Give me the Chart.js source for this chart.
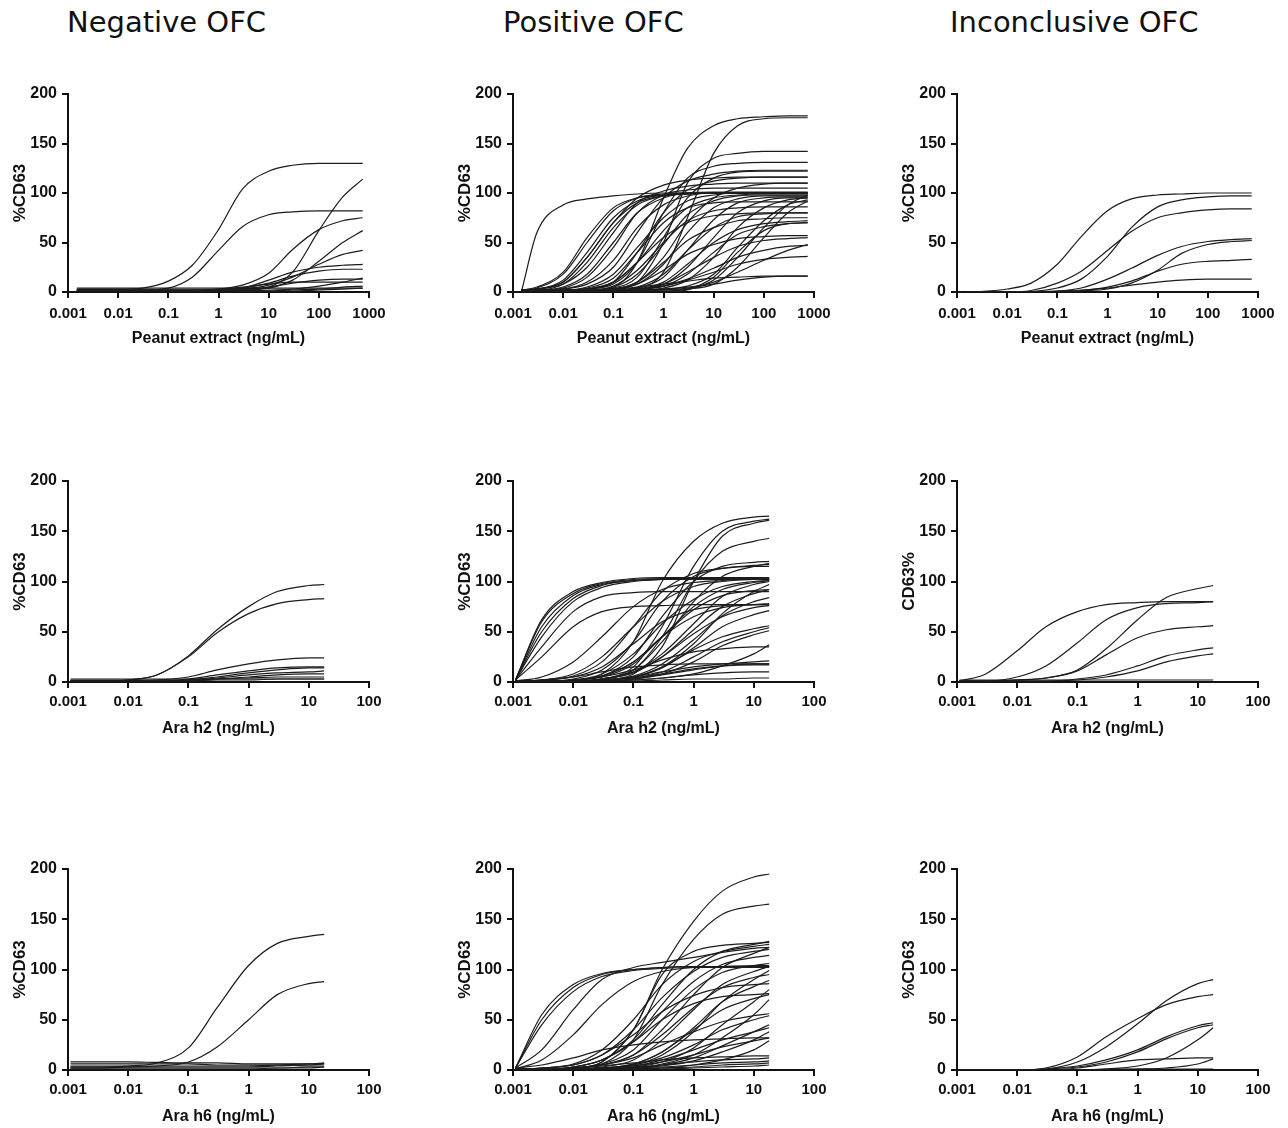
<!DOCTYPE html>
<html>
<head>
<meta charset="utf-8">
<title>%CD63 dose-response curves by OFC outcome</title>
<script src="https://cdn.jsdelivr.net/npm/chart.js@4.4.1/dist/chart.umd.min.js"></script>
<style>
  body { margin: 0; background: #fff; width: 1288px; height: 1128px; position: relative; overflow: hidden; }
  .col-title { position: absolute; top: 5px; font-family: "DejaVu Sans", Verdana, sans-serif; font-size: 29px; color: #111; white-space: nowrap; }
  canvas { position: absolute; }
</style>
</head>
<body>
<div class="col-title" style="left:67px">Negative OFC</div>
<div class="col-title" style="left:503px">Positive OFC</div>
<div class="col-title" style="left:950px">Inconclusive OFC</div>

<script>
var xPeanut = [0.0015, 0.003, 0.01, 0.03, 0.1, 0.3, 1, 3, 10, 30, 100, 300, 750];
var xAra = [0.0011, 0.003, 0.01, 0.03, 0.1, 0.3, 1, 3, 10, 18];

// Axis ticks
var peanutTicks = [0.001, 0.01, 0.1, 1, 10, 100, 1000];
var peanutTickLabels = ['0.001', '0.01', '0.1', '1', '10', '100', '1000'];
var araTicks = [0.001, 0.01, 0.1, 1, 10, 100];
var araTickLabels = ['0.001', '0.01', '0.1', '1', '10', '100'];
var yTicks = [0, 50, 100, 150, 200];

// %CD63 per patient, Peanut extract
var negPeanut = [
    [3, 3, 3, 4, 11, 27, 63, 104, 122, 128, 130, 130, 130],
    [2, 2, 2, 2, 4, 15, 42, 66, 78, 81, 82, 82, 82],
    [1, 1, 1, 1, 1, 1, 1, 2, 5, 20, 62, 96, 114],
    [2, 2, 2, 2, 2, 2, 3, 7, 19, 43, 63, 72, 75],
    [1, 1, 1, 1, 1, 1, 1, 2, 4, 12, 31, 50, 62],
    [1, 1, 1, 1, 1, 1, 2, 3, 7, 15, 28, 38, 42],
    [2, 2, 2, 2, 2, 2, 2, 4, 12, 20, 25, 27, 28],
    [1, 1, 1, 1, 1, 1, 2, 4, 9, 16, 21, 23, 23],
    [2, 2, 2, 2, 2, 2, 2, 3, 5, 9, 12, 13, 13],
    [1, 1, 1, 1, 1, 1, 1, 1, 2, 3, 6, 10, 14],
    [2, 2, 2, 2, 2, 2, 3, 5, 8, 10, 10, 10, 10],
    [1, 1, 1, 1, 1, 1, 1, 1, 1, 2, 3, 5, 6],
    [4, 4, 4, 4, 4, 4, 4, 4, 4, 4, 4, 4, 4],
    [1, 1, 1, 1, 1, 1, 1, 1, 1, 1, 2, 3, 4]
];

var posPeanut = [
    [2, 60, 88, 94, 97, 99, 100, 100, 100, 100, 100, 100, 100],
    [2, 2, 2, 2, 5, 30, 95, 145, 168, 175, 177, 178, 178],
    [2, 2, 2, 2, 2, 4, 20, 75, 140, 168, 175, 176, 176],
    [2, 2, 2, 2, 3, 10, 50, 110, 135, 140, 142, 142, 142],
    [2, 2, 2, 3, 8, 30, 80, 115, 127, 130, 131, 131, 131],
    [2, 2, 3, 8, 25, 60, 95, 112, 119, 122, 123, 123, 123],
    [2, 2, 2, 2, 4, 15, 55, 95, 115, 121, 122, 122, 122],
    [2, 3, 10, 35, 70, 95, 108, 113, 115, 116, 116, 116, 116],
    [2, 2, 2, 3, 10, 40, 80, 103, 112, 115, 116, 116, 116],
    [2, 3, 8, 25, 60, 90, 102, 107, 109, 110, 110, 110, 110],
    [2, 2, 2, 2, 3, 10, 35, 70, 95, 105, 109, 110, 110],
    [2, 4, 18, 50, 82, 95, 99, 100, 100, 100, 100, 100, 100],
    [2, 3, 12, 40, 75, 92, 98, 100, 100, 100, 100, 100, 100],
    [2, 2, 8, 30, 65, 88, 97, 99, 100, 100, 100, 100, 100],
    [2, 5, 20, 55, 85, 95, 98, 99, 100, 100, 100, 100, 100],
    [2, 3, 10, 35, 70, 90, 97, 99, 100, 100, 100, 100, 100],
    [2, 2, 5, 18, 50, 80, 95, 100, 101, 101, 101, 101, 101],
    [2, 2, 3, 10, 32, 65, 88, 97, 100, 100, 100, 100, 100],
    [2, 2, 2, 5, 18, 45, 75, 92, 98, 100, 100, 100, 100],
    [2, 2, 2, 3, 10, 30, 62, 85, 95, 98, 99, 99, 99],
    [2, 2, 2, 2, 5, 18, 48, 78, 92, 97, 98, 98, 98],
    [2, 2, 2, 2, 3, 8, 28, 60, 85, 94, 97, 97, 97],
    [2, 2, 2, 2, 2, 4, 15, 42, 73, 90, 95, 96, 96],
    [2, 2, 2, 2, 2, 3, 8, 25, 55, 80, 92, 95, 95],
    [2, 2, 2, 2, 2, 2, 4, 12, 35, 65, 85, 93, 95],
    [2, 2, 2, 2, 2, 2, 3, 6, 18, 45, 72, 88, 93],
    [2, 2, 2, 2, 2, 2, 2, 3, 8, 25, 55, 80, 92],
    [2, 2, 4, 15, 45, 80, 98, 103, 105, 105, 105, 105, 105],
    [2, 2, 2, 4, 14, 40, 70, 85, 90, 91, 91, 91, 91],
    [2, 2, 2, 2, 6, 22, 50, 72, 82, 85, 86, 86, 86],
    [2, 2, 2, 3, 10, 30, 55, 70, 77, 79, 80, 80, 80],
    [2, 2, 2, 2, 2, 5, 18, 42, 65, 76, 79, 80, 80],
    [2, 2, 2, 2, 3, 10, 30, 52, 65, 72, 74, 75, 75],
    [2, 2, 2, 2, 2, 3, 10, 28, 50, 63, 69, 71, 72],
    [2, 2, 2, 2, 2, 3, 6, 18, 40, 58, 66, 69, 70],
    [2, 2, 2, 2, 3, 8, 22, 38, 48, 54, 56, 57, 57],
    [2, 2, 2, 2, 2, 3, 8, 20, 35, 46, 52, 54, 55],
    [1, 1, 1, 1, 1, 1, 2, 4, 10, 20, 32, 42, 48],
    [2, 2, 2, 2, 2, 3, 6, 13, 24, 35, 42, 46, 47],
    [2, 2, 2, 2, 2, 3, 6, 12, 20, 28, 33, 35, 36],
    [2, 2, 2, 2, 3, 5, 8, 11, 14, 15, 16, 16, 16],
    [0, 0, 0, 0, 0, 0, 0, 2, 12, 35, 65, 88, 98],
    [1, 1, 1, 1, 1, 1, 1, 3, 15, 40, 62, 69, 70],
    [2, 2, 2, 2, 2, 2, 3, 5, 8, 12, 15, 16, 16]
];

var incPeanut = [
    [0, 0.5, 3, 9, 28, 56, 82, 94, 98, 99, 100, 100, 100],
    [0, 0, 0, 1.5, 9, 21, 42, 61, 75, 80, 83, 84, 84],
    [0, 0, 0, 0.5, 4, 13, 36, 65, 86, 93, 96, 97, 97],
    [0, 0, 0, 0, 1, 4, 13, 24, 37, 46, 51, 53, 54],
    [0, 0, 0, 0, 0, 1, 3, 9, 22, 39, 48, 51, 52],
    [0, 0, 0, 0, 0, 1.5, 5, 11, 21, 28, 31, 32, 33],
    [0, 0, 0, 0, 1, 2, 4, 7, 10, 12, 13, 13, 13]
];

// %CD63 per patient, Ara h2
var negAraH2 = [
    [1, 1, 2, 7, 26, 52, 75, 90, 96, 97],
    [1, 1, 2, 7, 25, 49, 68, 78, 82, 83],
    [1, 1, 1, 2, 5, 12, 18, 22, 24, 24],
    [1, 1, 1, 1, 3, 7, 11, 14, 15, 15],
    [1, 1, 1, 1, 2, 5, 9, 12, 14, 14],
    [1, 1, 1, 1, 2, 4, 7, 9, 10, 11],
    [1, 1, 1, 1, 1, 3, 5, 7, 8, 8],
    [2, 2, 2, 2, 2, 3, 4, 5, 5, 5],
    [1, 1, 1, 1, 1, 2, 2, 3, 3, 3],
    [3, 3, 3, 3, 3, 3, 3, 3, 3, 3]
];

var posAraH2 = [
    [2, 60, 88, 98, 102, 103, 103, 103, 103, 103],
    [2, 55, 86, 97, 101, 102, 103, 103, 103, 103],
    [2, 50, 83, 96, 101, 102, 102, 102, 102, 102],
    [2, 62, 90, 99, 103, 104, 104, 104, 104, 104],
    [2, 45, 80, 94, 100, 102, 103, 103, 103, 103],
    [2, 35, 70, 85, 89, 90, 90, 90, 90, 90],
    [2, 25, 55, 70, 75, 76, 77, 77, 77, 77],
    [1, 5, 20, 45, 75, 92, 99, 101, 102, 102],
    [1, 2, 8, 25, 55, 80, 95, 100, 102, 102],
    [1, 1, 2, 8, 40, 100, 140, 158, 164, 165],
    [1, 1, 1, 3, 15, 55, 115, 150, 160, 162],
    [1, 1, 1, 2, 8, 35, 100, 145, 158, 161],
    [1, 1, 1, 3, 12, 45, 100, 130, 140, 143],
    [1, 1, 2, 6, 25, 65, 100, 115, 119, 120],
    [1, 1, 1, 3, 12, 40, 80, 105, 115, 118],
    [1, 1, 3, 12, 40, 80, 105, 113, 116, 117],
    [1, 2, 6, 20, 55, 90, 108, 113, 115, 115],
    [1, 1, 2, 6, 20, 45, 75, 92, 99, 101],
    [1, 1, 1, 3, 10, 28, 58, 85, 97, 100],
    [1, 1, 1, 2, 5, 15, 38, 68, 90, 97],
    [1, 1, 2, 8, 28, 58, 82, 95, 100, 101],
    [1, 1, 2, 5, 18, 45, 72, 86, 91, 92],
    [1, 1, 1, 3, 9, 25, 52, 75, 88, 92],
    [1, 1, 1, 2, 6, 18, 42, 66, 80, 84],
    [1, 2, 5, 15, 38, 60, 72, 76, 77, 77],
    [1, 1, 2, 6, 20, 45, 65, 74, 77, 78],
    [1, 1, 1, 3, 10, 25, 48, 65, 74, 76],
    [1, 1, 1, 2, 5, 14, 34, 55, 67, 71],
    [1, 1, 1, 2, 5, 15, 32, 45, 53, 56],
    [1, 1, 1, 2, 4, 10, 25, 40, 50, 54],
    [1, 1, 1, 1, 3, 8, 20, 36, 47, 51],
    [1, 1, 1, 1, 2, 4, 8, 16, 28, 37],
    [1, 1, 2, 5, 12, 22, 30, 33, 35, 35],
    [1, 1, 1, 2, 5, 10, 15, 18, 20, 21],
    [1, 1, 1, 1, 3, 7, 12, 16, 18, 18],
    [1, 1, 1, 2, 4, 8, 13, 16, 17, 17],
    [1, 1, 1, 1, 2, 4, 7, 9, 10, 10],
    [1, 1, 1, 1, 1, 2, 3, 3, 4, 4],
    [1, 2, 5, 10, 15, 17, 18, 18, 18, 18]
];

var incAraH2 = [
    [1, 8, 31, 55, 70, 77, 79, 80, 80, 80],
    [1, 1, 5, 16, 39, 62, 74, 78, 79, 80],
    [1, 1, 2, 4, 12, 33, 62, 84, 93, 96],
    [1, 1, 2, 4, 11, 27, 44, 52, 55, 56],
    [1, 1, 1, 1, 3, 7, 16, 26, 32, 34],
    [1, 1, 1, 1, 2, 5, 11, 20, 26, 28],
    [2, 2, 2, 2, 2, 2, 2, 2, 2, 2]
];

// %CD63 per patient, Ara h6
var negAraH6 = [
    [3, 3, 4, 7, 22, 62, 104, 126, 133, 135],
    [2, 2, 3, 4, 8, 23, 50, 75, 86, 88],
    [8, 8, 8, 7.5, 7, 7, 6, 6, 6, 6],
    [6, 6, 6, 6, 6, 5, 5, 5, 4, 4],
    [4, 4, 4, 4, 4, 4, 4, 5, 6, 7],
    [3, 3, 3, 3, 3, 3, 3, 4, 5, 6],
    [2, 2, 2, 2, 2, 2, 2, 2, 3, 3],
    [1, 1, 1, 1, 1, 1, 1, 2, 2, 3]
];

var posAraH6 = [
    [1, 1, 2, 8, 40, 100, 148, 178, 192, 195],
    [1, 1, 2, 6, 30, 85, 130, 155, 163, 165],
    [2, 55, 85, 96, 100, 102, 103, 103, 103, 103],
    [2, 50, 82, 95, 100, 102, 103, 103, 103, 103],
    [2, 45, 78, 93, 99, 101, 102, 102, 102, 102],
    [1, 10, 35, 65, 88, 98, 102, 103, 104, 104],
    [1, 1, 3, 10, 30, 65, 100, 118, 125, 128],
    [1, 2, 6, 20, 50, 85, 108, 118, 123, 125],
    [1, 1, 2, 5, 15, 40, 75, 102, 116, 122],
    [1, 2, 5, 15, 40, 72, 98, 112, 118, 120],
    [1, 1, 3, 10, 28, 58, 88, 105, 112, 114],
    [2, 20, 60, 90, 102, 107, 112, 117, 121, 122],
    [1, 1, 2, 8, 40, 95, 118, 124, 126, 127],
    [1, 1, 2, 6, 20, 50, 80, 97, 104, 106],
    [1, 1, 1, 3, 10, 30, 60, 85, 98, 103],
    [1, 1, 1, 2, 5, 15, 38, 68, 90, 99],
    [1, 1, 2, 5, 15, 35, 62, 82, 92, 95],
    [1, 1, 1, 2, 6, 18, 42, 68, 83, 89],
    [1, 2, 5, 15, 35, 58, 74, 82, 85, 86],
    [1, 1, 1, 1, 3, 8, 22, 45, 68, 80],
    [1, 1, 3, 10, 28, 50, 66, 73, 75, 76],
    [1, 1, 1, 2, 6, 18, 40, 60, 71, 75],
    [1, 1, 1, 1, 2, 6, 15, 32, 55, 70],
    [1, 1, 2, 5, 12, 25, 38, 48, 54, 56],
    [1, 1, 1, 2, 5, 12, 25, 40, 50, 54],
    [1, 1, 1, 1, 2, 5, 12, 24, 38, 45],
    [1, 1, 1, 2, 4, 10, 20, 30, 38, 42],
    [1, 1, 1, 1, 2, 4, 9, 18, 30, 38],
    [1, 1, 1, 2, 4, 8, 15, 23, 29, 32],
    [1, 1, 1, 1, 1, 2, 5, 10, 20, 29],
    [1, 1, 2, 4, 7, 10, 12, 13, 14, 14],
    [1, 1, 1, 2, 3, 5, 8, 10, 11, 12],
    [1, 1, 1, 1, 2, 3, 5, 7, 8, 9],
    [1, 1, 1, 1, 1, 2, 3, 5, 6, 7],
    [1, 1, 1, 1, 1, 1, 2, 3, 4, 5],
    [2, 5, 12, 20, 25, 28, 30, 31, 32, 32]
];

var incAraH6 = [
    [0, 0, 0, 1, 8, 23, 46, 69, 86, 90],
    [0, 0, 0, 2, 13, 33, 51, 65, 73, 75],
    [0, 0, 0, 1, 4, 10, 20, 33, 44, 47],
    [0, 0, 0, 1, 3, 8, 18, 31, 42, 45],
    [0, 0, 0, 0, 0, 1, 4, 12, 30, 42],
    [0, 0, 0, 0, 2, 6, 10, 11, 12, 12],
    [0, 0, 0, 0, 0, 0, 1, 2, 6, 11],
    [0, 0, 0, 0, 0, 1, 1, 1, 1, 1]
];

// Panel grid: plot-area left edge per column, top edge / height per row
var colLeft = [68, 513, 957];
var rowTop = [94, 481, 869];
var rowHeight = [198, 201, 201];

var panels = [
    { curves: negPeanut, xs: xPeanut, ticks: peanutTicks, labels: peanutTickLabels, xTitle: 'Peanut extract (ng/mL)', yTitle: '%CD63', col: 0, row: 0 },
    { curves: posPeanut, xs: xPeanut, ticks: peanutTicks, labels: peanutTickLabels, xTitle: 'Peanut extract (ng/mL)', yTitle: '%CD63', col: 1, row: 0 },
    { curves: incPeanut, xs: xPeanut, ticks: peanutTicks, labels: peanutTickLabels, xTitle: 'Peanut extract (ng/mL)', yTitle: '%CD63', col: 2, row: 0 },
    { curves: negAraH2, xs: xAra, ticks: araTicks, labels: araTickLabels, xTitle: 'Ara h2 (ng/mL)', yTitle: '%CD63', col: 0, row: 1 },
    { curves: posAraH2, xs: xAra, ticks: araTicks, labels: araTickLabels, xTitle: 'Ara h2 (ng/mL)', yTitle: '%CD63', col: 1, row: 1 },
    { curves: incAraH2, xs: xAra, ticks: araTicks, labels: araTickLabels, xTitle: 'Ara h2 (ng/mL)', yTitle: 'CD63%', col: 2, row: 1 },
    { curves: negAraH6, xs: xAra, ticks: araTicks, labels: araTickLabels, xTitle: 'Ara h6 (ng/mL)', yTitle: '%CD63', col: 0, row: 2 },
    { curves: posAraH6, xs: xAra, ticks: araTicks, labels: araTickLabels, xTitle: 'Ara h6 (ng/mL)', yTitle: '%CD63', col: 1, row: 2 },
    { curves: incAraH6, xs: xAra, ticks: araTicks, labels: araTickLabels, xTitle: 'Ara h6 (ng/mL)', yTitle: '%CD63', col: 2, row: 2 }
];

var FONT = '"Liberation Sans", Arial, Helvetica, sans-serif';
var INK = '#111';

function drawPanel(p) {
    var h = rowHeight[p.row];
    var canvas = document.createElement('canvas');
    canvas.width = 400;
    canvas.height = 20 + h + 70;
    canvas.style.left = (colLeft[p.col] - 68) + 'px';
    canvas.style.top = (rowTop[p.row] - 20) + 'px';
    document.body.appendChild(canvas);

    var datasets = p.curves.map(function (c) {
        return {
            data: p.xs.map(function (x, i) { return { x: x, y: c[i] }; }),
            borderColor: '#1c1c1c',
            borderWidth: 1.2,
            pointRadius: 0,
            fill: false,
            cubicInterpolationMode: 'monotone'
        };
    });

    new Chart(canvas.getContext('2d'), {
        type: 'line',
        data: { datasets: datasets },
        options: {
            responsive: false,
            animation: false,
            events: [],
            layout: { padding: { top: 20, right: 31, left: 0, bottom: 0 } },
            plugins: { legend: { display: false }, tooltip: { enabled: false } },
            scales: {
                x: {
                    type: 'logarithmic',
                    min: p.ticks[0],
                    max: p.ticks[p.ticks.length - 1],
                    afterBuildTicks: function (scale) {
                        scale.ticks = p.ticks.map(function (v) { return { value: v }; });
                    },
                    afterFit: function (scale) { scale.height = 70; },
                    border: { display: true, color: INK, width: 2 },
                    grid: { display: true, drawOnChartArea: false, drawTicks: true, tickLength: 6, color: INK, lineWidth: 2 },
                    ticks: {
                        autoSkip: false,
                        maxRotation: 0,
                        padding: p.row === 0 ? 7 : 5,
                        color: INK,
                        font: { family: FONT, size: 15, weight: 'bold' },
                        callback: function (v, i) { return p.labels[i]; }
                    },
                    title: {
                        display: true,
                        text: p.xTitle,
                        color: INK,
                        font: { family: FONT, size: 16, weight: 'bold' },
                        padding: { top: 0, bottom: 14 }
                    }
                },
                y: {
                    min: 0,
                    max: 200,
                    afterBuildTicks: function (scale) {
                        scale.ticks = yTicks.map(function (v) { return { value: v }; });
                    },
                    afterFit: function (scale) { scale.width = 68; },
                    border: { display: true, color: INK, width: 2 },
                    grid: { display: true, drawOnChartArea: false, drawTicks: true, tickLength: 6, color: INK, lineWidth: 2 },
                    ticks: {
                        padding: 5,
                        color: INK,
                        font: { family: FONT, size: 16, weight: 'bold' }
                    },
                    title: {
                        display: true,
                        text: p.yTitle,
                        color: INK,
                        font: { family: FONT, size: 17, weight: 'bold' },
                        padding: { top: 10, bottom: 0 }
                    }
                }
            }
        }
    });
}

panels.forEach(drawPanel);
</script>
</body>
</html>
